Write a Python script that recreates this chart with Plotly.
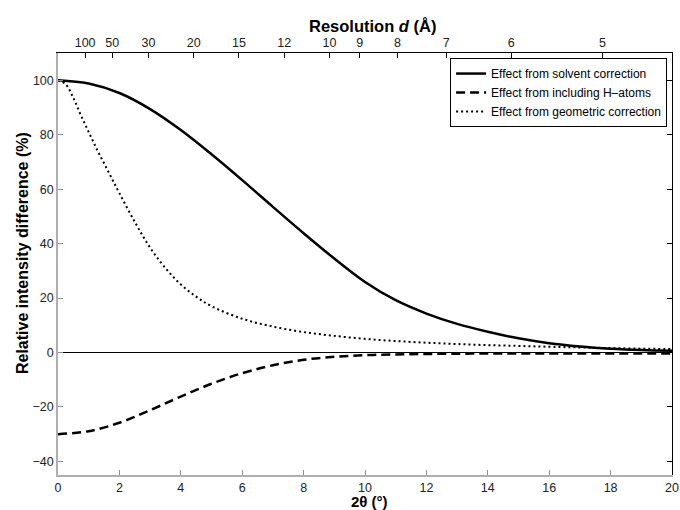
import plotly.graph_objects as go
import numpy as np

# 2-theta positions (degrees)
two_theta = [0, 1, 2, 3, 4, 5, 6, 7, 8, 9, 10, 11, 12, 13, 14, 15, 16, 17, 18, 19, 20]
solvent = [100, 98.8, 95.3, 89.4, 81.7, 72.8, 63.3, 53.5, 43.8, 34.5, 25.9, 19.2,
           14.3, 10.5, 7.6, 5.2, 3.4, 2.2, 1.4, 0.9, 0.6]
h_atoms = [-30, -28.9, -25.8, -21.2, -16.2, -11.5, -7.6, -4.7, -2.7, -1.6, -1.0, -0.7,
           -0.55, -0.45, -0.4, -0.4, -0.4, -0.4, -0.4, -0.4, -0.4]

geo_theta = [0, 0.25, 0.5, 0.75, 1, 1.25, 1.5, 1.75, 2, 2.5, 3, 3.5, 4, 4.5, 5, 6, 7, 8,
             9, 10, 11, 12, 13, 14, 15, 16, 17, 18, 19, 20]
geometric = [100, 98.5, 93.5, 87, 81, 75, 69.5, 64, 58.5, 48, 38.5, 31, 25, 20.5, 17,
             12.4, 9.5, 7.5, 6.1, 5.0, 4.2, 3.6, 3.1, 2.7, 2.4, 2.1, 1.85, 1.6, 1.4, 1.25]

# top axis: resolution d (Å), Cu K-alpha wavelength
wavelength = 1.5418
d_ticks = [100, 50, 30, 20, 15, 12, 10, 9, 8, 7, 6, 5]
d_pos = [2 * np.degrees(np.arcsin(wavelength / (2 * d))) for d in d_ticks]

y_ticks = [-40, -20, 0, 20, 40, 60, 80, 100]
x_ticks = [0, 2, 4, 6, 8, 10, 12, 14, 16, 18, 20]

x_title = "<b>2\u03b8 (\u00b0)</b>"
top_title = "<b>Resolution <i>d</i> (\u00c5)</b>"
y_title = "<b>Relative intensity difference (%)</b>"

FONT = "Liberation Sans, Arial, Helvetica, sans-serif"

fig = go.Figure()
fig.add_trace(go.Scatter(x=two_theta, y=solvent, mode="lines", line_shape="spline",
                         name="Effect from solvent correction",
                         line=dict(color="black", width=2.5)))
fig.add_trace(go.Scatter(x=two_theta, y=h_atoms, mode="lines", line_shape="spline",
                         name="Effect from including H\u2013atoms",
                         line=dict(color="black", width=2.5, dash="9px,5px")))
fig.add_trace(go.Scatter(x=geo_theta, y=geometric, mode="lines", line_shape="spline",
                         name="Effect from geometric correction",
                         line=dict(color="black", width=2, dash="2px,3px")))
# invisible traces to activate the top and right axes
fig.add_trace(go.Scatter(x=[0, 20], y=[0, 0], xaxis="x2", yaxis="y", mode="lines",
                         line=dict(width=0), showlegend=False, hoverinfo="skip"))
fig.add_trace(go.Scatter(x=[0, 20], y=[0, 0], xaxis="x", yaxis="y2", mode="lines",
                         line=dict(width=0), showlegend=False, hoverinfo="skip"))

axis_common = dict(showgrid=False, ticks="inside", ticklen=5, automargin=False,
                   tickfont=dict(family=FONT, size=12.5, color="#222"))

fig.update_layout(
    width=680, height=510,
    margin=dict(l=58, r=8, t=53, b=35),
    paper_bgcolor="white", plot_bgcolor="white",
    font=dict(family=FONT, color="black"),
    xaxis=dict(range=[0, 20], tickvals=x_ticks, showline=True, linecolor="#b0b0b0",
               linewidth=2, tickcolor="#909090", zeroline=False, **axis_common),
    xaxis2=dict(range=[0, 20], overlaying="x", side="top", tickvals=d_pos,
                ticktext=[str(d) for d in d_ticks], showline=True, linecolor="black",
                linewidth=1, tickcolor="black", zeroline=False, **axis_common),
    yaxis=dict(range=[-45, 110], tickvals=y_ticks, showline=True, linecolor="#b0b0b0",
               linewidth=1.5, tickcolor="#909090", zeroline=True, zerolinecolor="black",
               zerolinewidth=1.2, **axis_common),
    yaxis2=dict(range=[-45, 110], overlaying="y", side="right", tickvals=y_ticks,
                showticklabels=False, showline=True, linecolor="black", linewidth=1,
                tickcolor="black", zeroline=False, showgrid=False, ticks="inside",
                ticklen=5, automargin=False),
    legend=dict(x=0.992, y=0.988, xanchor="right", yanchor="top",
                bgcolor="white", bordercolor="black", borderwidth=1,
                font=dict(family=FONT, size=12), tracegroupgap=0,
                itemwidth=30),
    showlegend=True,
    annotations=[
        dict(text=top_title, xref="paper", yref="paper", x=0.513, y=1,
             xanchor="center", yanchor="middle", yshift=27, showarrow=False,
             font=dict(family=FONT, size=16.5, color="black")),
        dict(text=x_title, xref="paper", yref="paper", x=0.508, y=0,
             xanchor="center", yanchor="middle", yshift=-26.5, showarrow=False,
             font=dict(family=FONT, size=15, color="black")),
        dict(text=y_title, xref="paper", yref="paper", x=0, y=0.526,
             xanchor="center", yanchor="middle", xshift=-36, textangle=-90,
             showarrow=False, font=dict(family=FONT, size=16, color="black")),
    ],
)

# remove the browser's default body margin so the figure fills the window exactly
fig.write_html("out.html",
               config={"displayModeBar": False},
               post_script="document.body.style.margin='0';"
                           "document.body.style.overflow='hidden';")
